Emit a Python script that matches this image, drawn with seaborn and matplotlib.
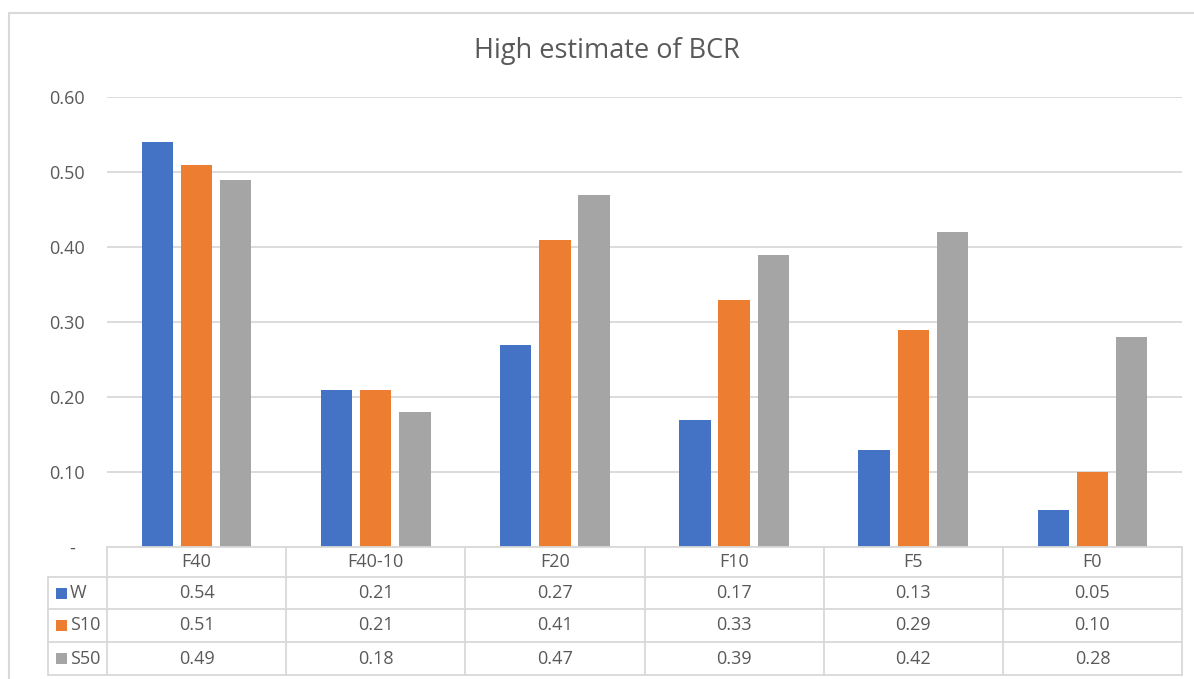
import matplotlib
matplotlib.use("Agg")
import matplotlib.pyplot as plt
import pandas as pd
import seaborn as sns
from matplotlib.lines import Line2D
from matplotlib.patches import Rectangle
from matplotlib.transforms import blended_transform_factory

# Benefit-cost ratio, high estimate, per scenario
categories = ["F40", "F40-10", "F20", "F10", "F5", "F0"]
series_names = ["W", "S10", "S50"]
w_values = [0.54, 0.21, 0.27, 0.17, 0.13, 0.05]
s10_values = [0.51, 0.21, 0.41, 0.33, 0.29, 0.10]
s50_values = [0.49, 0.18, 0.47, 0.39, 0.42, 0.28]
y_ticks = [0.0, 0.1, 0.2, 0.3, 0.4, 0.5, 0.6]

colors = ["#4472C4", "#ED7D31", "#A5A5A5"]
text_color = "#595959"
line_color = "#D9D9D9"

sns.set_theme(style="white")
plt.rcParams["font.family"] = ["Open Sans", "DejaVu Sans"]

W, H = 1194, 679
fig = plt.figure(figsize=(W / 100, H / 100), dpi=100)


def fx(px):
    return px / W


def fy(py):
    return 1 - py / H


ax = fig.add_axes([fx(107), fy(547), fx(1182) - fx(107), fy(97) - fy(547)])

values = {"W": w_values, "S10": s10_values, "S50": s50_values}
df = pd.DataFrame(
    [(c, s, values[s][i]) for s in series_names for i, c in enumerate(categories)],
    columns=["category", "series", "value"],
)

sns.barplot(
    data=df, x="category", y="value", hue="series", order=categories,
    hue_order=series_names, palette=colors, saturation=1, width=0.655,
    gap=0.2, legend=False, ax=ax, edgecolor="none",
)

ax.set_xlim(-0.5, len(categories) - 0.5)
ax.set_ylim(0, 0.6)
ax.set_yticks(y_ticks)
ax.set_yticklabels(["-  " if v == 0 else f"{v:.2f}" for v in y_ticks])
ax.tick_params(axis="y", length=0, pad=16, labelsize=13, labelcolor=text_color)
ax.tick_params(axis="x", length=0, labelbottom=False)
ax.set_xlabel("")
ax.set_ylabel("")
for s in ax.spines.values():
    s.set_visible(False)
ax.yaxis.grid(True, color=line_color, lw=1.3)
ax.set_axisbelow(True)

# Data table under the plot
trans = blended_transform_factory(ax.transData, fig.transFigure)
row_edges = [547, 577, 609, 642, 675]
lw = 1.3

def hline(x0, x1, py, tr):
    fig.add_artist(Line2D([x0, x1], [fy(py), fy(py)], transform=tr,
                          color=line_color, lw=lw, clip_on=False))

def vline(x, py0, py1, tr):
    fig.add_artist(Line2D([x, x], [fy(py0), fy(py1)], transform=tr,
                          color=line_color, lw=lw, clip_on=False))

hline(-0.5, len(categories) - 0.5, row_edges[0], trans)
for py in row_edges[1:]:
    hline(fx(48), fx(107), py, fig.transFigure)
    hline(-0.5, len(categories) - 0.5, py, trans)
vline(fx(48), row_edges[1], row_edges[-1], fig.transFigure)
for i in range(len(categories) + 1):
    vline(i - 0.5, row_edges[0], row_edges[-1], trans)

for i, c in enumerate(categories):
    ax.text(i, fy((row_edges[0] + row_edges[1]) / 2), c, transform=trans,
            ha="center", va="center", fontsize=13, color=text_color)

for r, s in enumerate(series_names):
    ymid = (row_edges[r + 1] + row_edges[r + 2]) / 2
    fig.add_artist(Rectangle((fx(56), fy(ymid + 5.5)), fx(10.5), fy(0) - fy(11),
                             transform=fig.transFigure, facecolor=colors[r],
                             edgecolor="none"))
    fig.text(fx(70), fy(ymid), s, ha="left", va="center", fontsize=13,
             color=text_color)
    for i, v in enumerate(values[s]):
        ax.text(i, fy(ymid), f"{v:.2f}", transform=trans, ha="center",
                va="center", fontsize=13, color=text_color)

# Chart frame
fig.add_artist(Line2D([fx(8.5), fx(8.5)], [fy(13), fy(679)], transform=fig.transFigure,
                      color=line_color, lw=1.5))
fig.add_artist(Line2D([fx(8.5), fx(1194)], [fy(13), fy(13)], transform=fig.transFigure,
                      color=line_color, lw=1.5))

fig.text(fx(607), fy(51), "High estimate of BCR", ha="center", va="center",
         fontsize=19.5, color=text_color)

fig.savefig("out.png", dpi=100, facecolor="white")
